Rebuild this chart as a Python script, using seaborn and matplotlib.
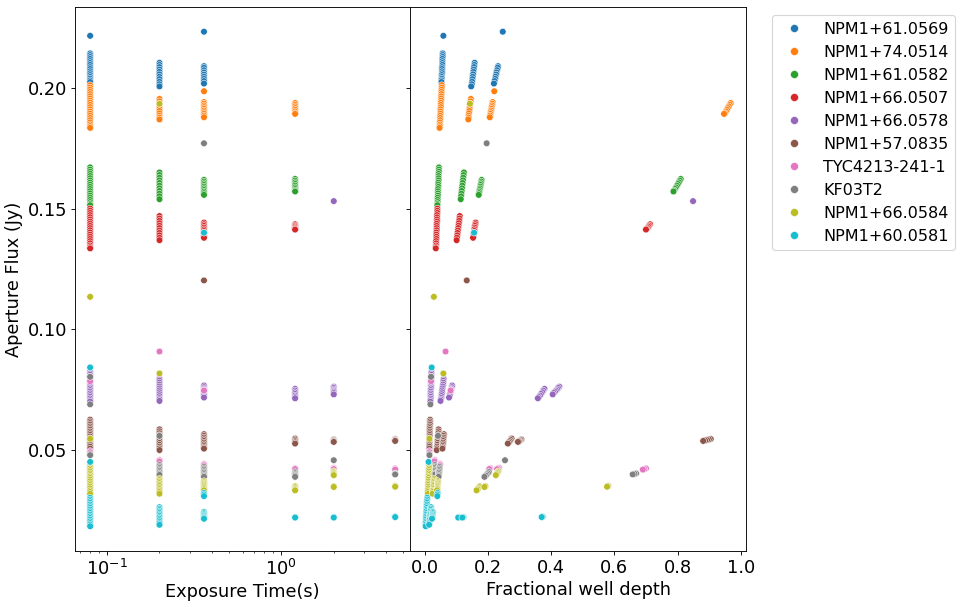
import matplotlib
matplotlib.use("Agg")
import matplotlib.pyplot as plt
import seaborn as sns
import pandas as pd

stars = ["NPM1+61.0569", "NPM1+74.0514", "NPM1+61.0582", "NPM1+66.0507",
         "NPM1+66.0578", "NPM1+57.0835", "TYC4213-241-1", "KF03T2",
         "NPM1+66.0584", "NPM1+60.0581"]

# ---- NPM1+61.0569 (blue)
s0_exp = [0.08] * 17 + [0.2] * 11 + [0.36] * 10
s0_flux = [0.2218, 0.2145, 0.2138, 0.2130, 0.2122, 0.2113, 0.2105, 0.2097, 0.2088, 0.2080, 0.2071, 0.2063, 0.2055, 0.2047, 0.2040, 0.2033, 0.2026,
           0.2106, 0.2097, 0.2088, 0.2078, 0.2068, 0.2058, 0.2048, 0.2038, 0.2027, 0.2017, 0.2008,
           0.2235, 0.2092, 0.2085, 0.2075, 0.2066, 0.2057, 0.2048, 0.2039, 0.2030, 0.2020]
s0_fwd = [0.059, 0.057, 0.057, 0.057, 0.056, 0.056, 0.056, 0.056, 0.055, 0.055, 0.055, 0.055, 0.054, 0.054, 0.054, 0.053, 0.053,
          0.158, 0.157, 0.156, 0.155, 0.154, 0.153, 0.152, 0.151, 0.150, 0.149, 0.147,
          0.247, 0.232, 0.231, 0.229, 0.227, 0.226, 0.224, 0.223, 0.221, 0.219]

# ---- NPM1+74.0514 (orange)
s1_exp = [0.08] * 21 + [0.2] * 10 + [0.36] * 11 + [1.2] * 8
s1_flux = [0.2013, 0.2003, 0.1994, 0.1985, 0.1976, 0.1967, 0.1958, 0.1949, 0.1940, 0.1931, 0.1922, 0.1913, 0.1904, 0.1895, 0.1886, 0.1877, 0.1868, 0.1859, 0.1850, 0.1843, 0.1836,
           0.1956, 0.1946, 0.1936, 0.1926, 0.1916, 0.1906, 0.1896, 0.1886, 0.1878, 0.1871,
           0.1988, 0.1943, 0.1936, 0.1929, 0.1922, 0.1915, 0.1908, 0.1901, 0.1894, 0.1887, 0.1880,
           0.1939, 0.1932, 0.1925, 0.1918, 0.1911, 0.1904, 0.1897, 0.1894]
s1_fwd = [0.054, 0.054, 0.053, 0.053, 0.053, 0.052, 0.052, 0.052, 0.051, 0.051, 0.051, 0.050, 0.050, 0.050, 0.049, 0.049, 0.049, 0.048, 0.048, 0.048, 0.047,
          0.146, 0.145, 0.144, 0.143, 0.142, 0.141, 0.140, 0.139, 0.139, 0.138,
          0.220, 0.215, 0.214, 0.213, 0.212, 0.211, 0.210, 0.209, 0.208, 0.207, 0.206,
          0.968, 0.965, 0.962, 0.959, 0.956, 0.953, 0.950, 0.947]

# ---- NPM1+61.0582 (green)
s2_exp = [0.08] * 19 + [0.2] * 11 + [0.36] * 10 + [1.2] * 9
s2_flux = [0.1672, 0.1663, 0.1654, 0.1645, 0.1636, 0.1627, 0.1618, 0.1609, 0.1600, 0.1591, 0.1582, 0.1573, 0.1564, 0.1555, 0.1546, 0.1537, 0.1528, 0.1520, 0.1515,
           0.1651, 0.1640, 0.1629, 0.1618, 0.1607, 0.1596, 0.1585, 0.1574, 0.1563, 0.1552, 0.1540,
           0.1620, 0.1613, 0.1606, 0.1599, 0.1592, 0.1585, 0.1578, 0.1571, 0.1565, 0.1558,
           0.1624, 0.1617, 0.1610, 0.1603, 0.1596, 0.1589, 0.1582, 0.1576, 0.1572]
s2_fwd = [0.045, 0.045, 0.045, 0.044, 0.044, 0.044, 0.044, 0.043, 0.043, 0.043, 0.042, 0.042, 0.042, 0.042, 0.041, 0.041, 0.041, 0.040, 0.040,
          0.124, 0.123, 0.122, 0.121, 0.120, 0.119, 0.118, 0.117, 0.116, 0.115, 0.114,
          0.180, 0.179, 0.178, 0.177, 0.176, 0.175, 0.174, 0.173, 0.172, 0.171,
          0.810, 0.807, 0.804, 0.801, 0.798, 0.795, 0.792, 0.789, 0.787]

# ---- NPM1+66.0507 (red)
s3_exp = [0.08] * 20 + [0.2] * 11 + [0.36] * 10 + [1.2] * 6
s3_flux = [0.1501, 0.1492, 0.1483, 0.1474, 0.1465, 0.1456, 0.1447, 0.1438, 0.1429, 0.1420, 0.1411, 0.1402, 0.1393, 0.1384, 0.1375, 0.1366, 0.1357, 0.1348, 0.1341, 0.1336,
           0.1470, 0.1460, 0.1450, 0.1440, 0.1430, 0.1420, 0.1410, 0.1400, 0.1390, 0.1380, 0.1370,
           0.1443, 0.1436, 0.1429, 0.1422, 0.1415, 0.1408, 0.1401, 0.1394, 0.1387, 0.1380,
           0.1436, 0.1431, 0.1426, 0.1421, 0.1417, 0.1414]
s3_fwd = [0.040, 0.040, 0.040, 0.039, 0.039, 0.039, 0.039, 0.038, 0.038, 0.038, 0.038, 0.037, 0.037, 0.037, 0.037, 0.036, 0.036, 0.036, 0.035, 0.035,
          0.111, 0.110, 0.109, 0.108, 0.107, 0.106, 0.105, 0.104, 0.103, 0.102, 0.101,
          0.161, 0.160, 0.159, 0.158, 0.157, 0.157, 0.156, 0.155, 0.154, 0.153,
          0.713, 0.710, 0.708, 0.705, 0.702, 0.700]

# ---- NPM1+66.0578 (purple)
s4_exp = [0.08] * 19 + [0.2] * 13 + [0.36] * 8 + [1.2] * 7 + [2.0] * 8
s4_flux = [0.0825, 0.0818, 0.0811, 0.0804, 0.0797, 0.0790, 0.0783, 0.0776, 0.0769, 0.0762, 0.0755, 0.0748, 0.0741, 0.0734, 0.0727, 0.0720, 0.0713, 0.0706, 0.0700,
           0.0795, 0.0787, 0.0779, 0.0771, 0.0763, 0.0755, 0.0747, 0.0739, 0.0731, 0.0723, 0.0715, 0.0709, 0.0703,
           0.0767, 0.0760, 0.0753, 0.0746, 0.0739, 0.0732, 0.0725, 0.0717,
           0.0753, 0.0746, 0.0739, 0.0732, 0.0725, 0.0719, 0.0714,
           0.1532, 0.0762, 0.0757, 0.0751, 0.0746, 0.0741, 0.0736, 0.0730]
s4_fwd = [0.021, 0.021, 0.021, 0.021, 0.021, 0.020, 0.020, 0.020, 0.020, 0.020, 0.020, 0.019, 0.019, 0.019, 0.019, 0.019, 0.019, 0.018, 0.018,
          0.060, 0.059, 0.059, 0.058, 0.057, 0.056, 0.055, 0.055, 0.054, 0.053, 0.052, 0.051, 0.050,
          0.087, 0.086, 0.084, 0.083, 0.082, 0.080, 0.079, 0.077,
          0.379, 0.375, 0.372, 0.368, 0.365, 0.361, 0.358,
          0.849, 0.426, 0.422, 0.419, 0.415, 0.412, 0.408, 0.405]

# ---- NPM1+57.0835 (brown)
s5_exp = [0.08] * 18 + [0.2] * 12 + [0.36] * 11 + [1.2] * 5 + [2.0] * 5 + [4.5] * 5
s5_flux = [0.0625, 0.0618, 0.0611, 0.0604, 0.0597, 0.0590, 0.0583, 0.0576, 0.0569, 0.0562, 0.0555, 0.0548, 0.0541, 0.0534, 0.0527, 0.0520, 0.0513, 0.0505,
           0.0585, 0.0577, 0.0569, 0.0561, 0.0553, 0.0545, 0.0537, 0.0529, 0.0521, 0.0513, 0.0506, 0.0499,
           0.1203, 0.0565, 0.0558, 0.0551, 0.0544, 0.0537, 0.0530, 0.0523, 0.0516, 0.0510, 0.0505,
           0.0547, 0.0541, 0.0536, 0.0531, 0.0526,
           0.0543, 0.0540, 0.0537, 0.0535, 0.0533,
           0.0545, 0.0543, 0.0541, 0.0539, 0.0537]
s5_fwd = [0.017, 0.017, 0.017, 0.017, 0.016, 0.016, 0.016, 0.016, 0.016, 0.016, 0.016, 0.015, 0.015, 0.015, 0.015, 0.015, 0.015, 0.015,
          0.044, 0.044, 0.043, 0.043, 0.042, 0.042, 0.041, 0.041, 0.040, 0.039, 0.039, 0.038,
          0.133, 0.061, 0.060, 0.060, 0.059, 0.059, 0.058, 0.058, 0.057, 0.057, 0.056,
          0.275, 0.272, 0.269, 0.266, 0.263,
          0.306, 0.303, 0.300, 0.298, 0.295,
          0.905, 0.899, 0.893, 0.887, 0.881]

# ---- TYC4213-241-1 (pink)
s6_exp = [0.08] * 4 + [0.2] * 4 + [0.36] * 5 + [1.2] * 3 + [2.0] * 3 + [4.5] * 3
s6_flux = [0.0790, 0.0785, 0.0495, 0.0490,
           0.0908, 0.0458, 0.0455, 0.0452,
           0.0749, 0.0746, 0.0442, 0.0439, 0.0436,
           0.0424, 0.0422, 0.0420,
           0.0425, 0.0422, 0.0420,
           0.0423, 0.0420, 0.0418]
s6_fwd = [0.020, 0.020, 0.015, 0.015,
          0.066, 0.032, 0.031, 0.031,
          0.083, 0.082, 0.049, 0.048, 0.048,
          0.208, 0.206, 0.204,
          0.235, 0.232, 0.229,
          0.700, 0.695, 0.690]

# ---- KF03T2 (gray)
s7_exp = [0.08] * 4 + [0.2] * 9 + [0.36] * 9 + [1.2] * 5 + [2.0] * 1 + [4.5] * 3
s7_flux = [0.0803, 0.0689, 0.0482, 0.0478,
           0.0558, 0.0437, 0.0431, 0.0425, 0.0419, 0.0413, 0.0407, 0.0401, 0.0396,
           0.1772, 0.0429, 0.0423, 0.0417, 0.0411, 0.0405, 0.0399, 0.0393, 0.0388,
           0.0408, 0.0403, 0.0398, 0.0393, 0.0388,
           0.0457,
           0.0402, 0.0400, 0.0398]
s7_fwd = [0.020, 0.018, 0.015, 0.015,
          0.042, 0.031, 0.031, 0.030, 0.030, 0.029, 0.029, 0.028, 0.028,
          0.196, 0.047, 0.047, 0.046, 0.046, 0.045, 0.045, 0.044, 0.044,
          0.203, 0.200, 0.196, 0.193, 0.189,
          0.254,
          0.669, 0.664, 0.658]

# ---- NPM1+66.0584 (olive)
s8_exp = [0.08] * 20 + [0.2] * 13 + [0.36] * 9 + [1.2] * 5 + [2.0] * 7 + [4.5] * 3
s8_flux = [0.1135, 0.0546, 0.0437, 0.0430, 0.0423, 0.0416, 0.0409, 0.0402, 0.0395, 0.0389, 0.0383, 0.0376, 0.0369, 0.0361, 0.0354, 0.0347, 0.0340, 0.0332, 0.0325, 0.0317,
           0.1936, 0.0817, 0.0380, 0.0374, 0.0368, 0.0362, 0.0356, 0.0350, 0.0343, 0.0337, 0.0331, 0.0325, 0.0318,
           0.0370, 0.0365, 0.0360, 0.0355, 0.0350, 0.0346, 0.0341, 0.0337, 0.0332,
           0.0349, 0.0345, 0.0340, 0.0336, 0.0332,
           0.0411, 0.0407, 0.0403, 0.0399, 0.0395, 0.0349, 0.0346,
           0.0351, 0.0349, 0.0347]
s8_fwd = [0.029, 0.015, 0.014, 0.014, 0.014, 0.013, 0.013, 0.013, 0.013, 0.012, 0.012, 0.012, 0.012, 0.011, 0.011, 0.011, 0.011, 0.010, 0.010, 0.010,
          0.143, 0.059, 0.030, 0.030, 0.029, 0.029, 0.028, 0.028, 0.027, 0.027, 0.026, 0.026, 0.025,
          0.042, 0.042, 0.041, 0.041, 0.041, 0.040, 0.040, 0.040, 0.039,
          0.174, 0.172, 0.169, 0.167, 0.164,
          0.233, 0.231, 0.229, 0.227, 0.225, 0.192, 0.189,
          0.581, 0.579, 0.577]

# ---- NPM1+60.0581 (cyan)
s9_exp = [0.08] * 20 + [0.2] * 13 + [0.36] * 11 + [1.2] * 3 + [2.0] * 3 + [4.5] * 3
s9_flux = [0.0842, 0.0450, 0.0301, 0.0294, 0.0287, 0.0280, 0.0273, 0.0266, 0.0259, 0.0252, 0.0245, 0.0238, 0.0231, 0.0224, 0.0217, 0.0210, 0.0203, 0.0196, 0.0189, 0.0183,
           0.0262, 0.0256, 0.0250, 0.0244, 0.0238, 0.0232, 0.0226, 0.0220, 0.0214, 0.0208, 0.0201, 0.0195, 0.0189,
           0.1401, 0.0321, 0.0315, 0.0308, 0.0242, 0.0237, 0.0232, 0.0227, 0.0222, 0.0218, 0.0214,
           0.0221, 0.0220, 0.0219,
           0.0221, 0.0220, 0.0219,
           0.0223, 0.0222, 0.0221]
s9_fwd = [0.022, 0.012, 0.008, 0.008, 0.007, 0.007, 0.007, 0.006, 0.006, 0.006, 0.005, 0.005, 0.005, 0.004, 0.004, 0.004, 0.004, 0.003, 0.003, 0.003,
          0.020, 0.019, 0.019, 0.018, 0.018, 0.017, 0.017, 0.016, 0.016, 0.015, 0.015, 0.014, 0.014,
          0.156, 0.041, 0.040, 0.040, 0.026, 0.026, 0.025, 0.025, 0.024, 0.024, 0.023,
          0.110, 0.108, 0.106,
          0.123, 0.121, 0.119,
          0.374, 0.372, 0.370]

series = [(s0_exp, s0_flux, s0_fwd), (s1_exp, s1_flux, s1_fwd), (s2_exp, s2_flux, s2_fwd),
          (s3_exp, s3_flux, s3_fwd), (s4_exp, s4_flux, s4_fwd), (s5_exp, s5_flux, s5_fwd),
          (s6_exp, s6_flux, s6_fwd), (s7_exp, s7_flux, s7_fwd), (s8_exp, s8_flux, s8_fwd),
          (s9_exp, s9_flux, s9_fwd)]

frames = []
for name, (e, f, w) in zip(stars, series):
    frames.append(pd.DataFrame({"star": name, "exposure": e, "flux": f, "fwd": w}))
df = pd.concat(frames, ignore_index=True)

fig, (ax1, ax2) = plt.subplots(1, 2, sharey=True, figsize=(12, 7.5875), dpi=80)
fig.subplots_adjust(left=0.078, right=0.777, top=0.9885, bottom=0.0923, wspace=0)

sns.scatterplot(data=df, x="exposure", y="flux", hue="star", hue_order=stars,
                palette="tab10", ax=ax1, legend=False)
ax1.set_xscale("log")
sns.scatterplot(data=df, x="fwd", y="flux", hue="star", hue_order=stars,
                palette="tab10", ax=ax2, legend=True)

ax1.set_xlabel("Exposure Time(s)", fontsize=16)
ax1.set_ylabel("Aperture Flux (Jy)", fontsize=16)
ax2.set_xlabel("Fractional well depth", fontsize=16)
ax2.set_ylabel("")
ax1.tick_params(labelsize=16)
ax2.tick_params(labelsize=16)
ax2.set_xticks([0.0, 0.2, 0.4, 0.6, 0.8, 1.0])

handles, labels = ax2.get_legend_handles_labels()
ax2.get_legend().remove()
fig.legend(handles, labels, loc="upper left", bbox_to_anchor=(0.804, 0.975),
           fontsize=14.4, borderaxespad=0, markerscale=1.2)

fig.savefig("out.png", dpi=80)
